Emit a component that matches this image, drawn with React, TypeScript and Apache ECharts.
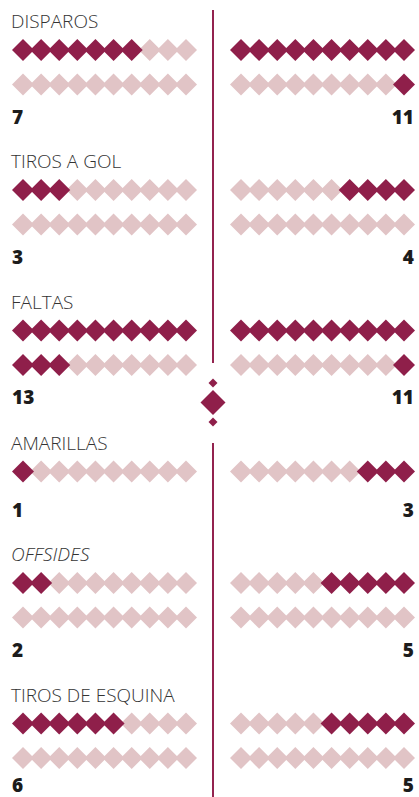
import React, { useEffect, useRef } from 'react';
import * as echarts from 'echarts';

// ---- data ----
const statLabels = ['DISPAROS', 'TIROS A GOL', 'FALTAS', 'AMARILLAS', 'OFFSIDES', 'TIROS DE ESQUINA'];
const homeValues = [7, 3, 13, 1, 2, 6];
const awayValues = [11, 4, 11, 3, 5, 5];
const rowsPerStat = [2, 2, 2, 1, 2, 2];
const italicStats = [false, false, false, false, true, false];
const perRow = 10;

// ---- layout ----
const W = 419;
const H = 797;
const titleY = [21, 161, 301.5, 442.5, 554, 694.5];
const numberGap = [32, 32, 32, 38, 32, 27];
const titleToRow = 29;
const rowGap = 34.5;
const leftStart = 23;
const rightStart = 241;
const rowSpan = 163;
const centerX = 213;
const DARK = '#8f1f4a';
const LIGHT = '#e1c4c6';
const LINE = '#93234f';
const FONT = '"Open Sans", "Noto Sans", sans-serif';

export default function App() {
  const ref = useRef<HTMLDivElement>(null);
  useEffect(() => {
    document.body.style.margin = '0';
    if (!ref.current) return;
    const chart = echarts.init(ref.current, null, { renderer: 'svg' });
    const grids: any[] = [];
    const xAxes: any[] = [];
    const yAxes: any[] = [];
    const series: any[] = [];
    const graphics: any[] = [];

    statLabels.forEach((label, s) => {
      const r1 = titleY[s] + titleToRow;
      const lastRow = r1 + (rowsPerStat[s] - 1) * rowGap;
      graphics.push({
        type: 'text', x: 11, y: titleY[s], silent: true,
        style: {
          text: label, fontFamily: FONT, fontSize: 19, fontWeight: 300,
          fontStyle: italicStats[s] ? 'italic' : 'normal', fill: '#333333',
          align: 'left', verticalAlign: 'middle',
        },
      });
      [0, 1].forEach((side) => {
        const gi = grids.length;
        grids.push({ left: side === 0 ? leftStart : rightStart, width: rowSpan, top: r1, height: rowGap });
        xAxes.push({ gridIndex: gi, type: 'value', min: 0, max: perRow - 1, show: false });
        yAxes.push({ gridIndex: gi, type: 'value', min: 0, max: 1, inverse: true, show: false });
        const value = side === 0 ? homeValues[s] : awayValues[s];
        const on: number[][] = [];
        const off: number[][] = [];
        for (let k = 0; k < rowsPerStat[s] * perRow; k++) {
          const row = Math.floor(k / perRow);
          const c = k % perRow;
          const x = side === 0 ? c : perRow - 1 - c;
          (k < value ? on : off).push([x, row]);
        }
        series.push({
          type: 'scatter', xAxisIndex: gi, yAxisIndex: gi, symbol: 'diamond', symbolSize: [22, 22],
          data: off, itemStyle: { color: LIGHT, opacity: 1 }, silent: true, z: 2,
        });
        series.push({
          type: 'scatter', xAxisIndex: gi, yAxisIndex: gi, symbol: 'diamond', symbolSize: [22, 22],
          data: on, itemStyle: { color: DARK, opacity: 1 }, silent: true, z: 3,
        });
        graphics.push({
          type: 'text', x: side === 0 ? 12 : 414, y: lastRow + numberGap[s], silent: true,
          style: {
            text: String(value), fontFamily: FONT, fontSize: 19, fontWeight: 800, fill: '#1c1c1c',
            lineHeight: 18, align: side === 0 ? 'left' : 'right', verticalAlign: 'middle',
          },
        });
      });
    });

    const diamond = (cx: number, cy: number, h: number) => ({
      type: 'polygon', silent: true,
      shape: { points: [[cx, cy - h], [cx + h, cy], [cx, cy + h], [cx - h, cy]] },
      style: { fill: DARK },
    });
    graphics.push(
      { type: 'line', silent: true, shape: { x1: centerX, y1: 10, x2: centerX, y2: 363 }, style: { stroke: LINE, lineWidth: 2 } },
      { type: 'line', silent: true, shape: { x1: centerX, y1: 443, x2: centerX, y2: H }, style: { stroke: LINE, lineWidth: 2 } },
      diamond(centerX, 383, 4.5),
      diamond(centerX, 402.5, 12.5),
      diamond(centerX, 422, 4.5),
    );

    chart.setOption({
      animation: false,
      backgroundColor: '#ffffff',
      grid: grids,
      xAxis: xAxes,
      yAxis: yAxes,
      series,
      graphic: graphics,
    });
    return () => chart.dispose();
  }, []);
  return <div ref={ref} style={{ width: W, height: H }} />;
}
